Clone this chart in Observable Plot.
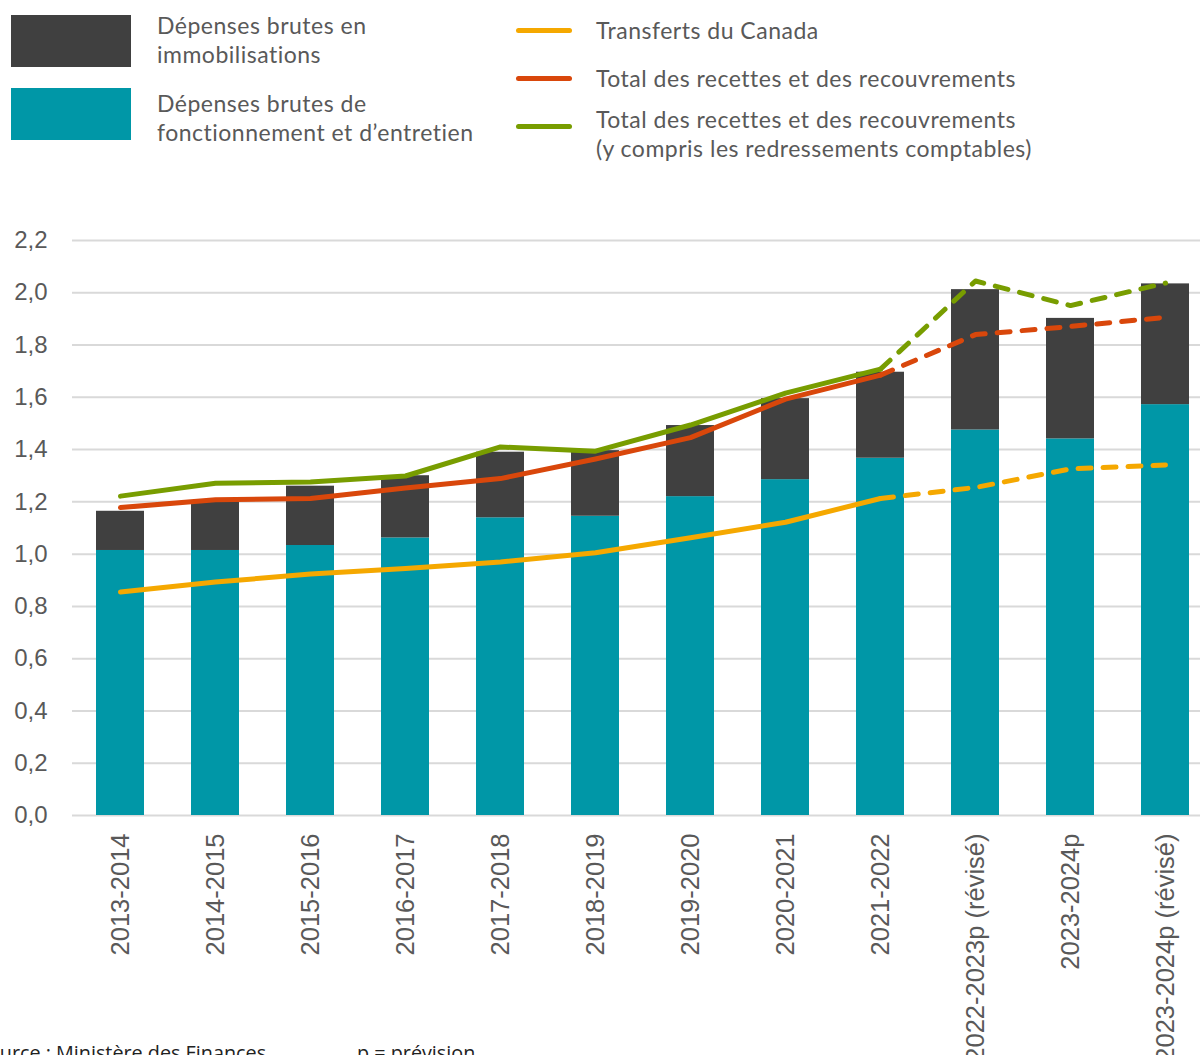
<!DOCTYPE html>
<html>
<head>
<meta charset="utf-8">
<script src="https://cdn.jsdelivr.net/npm/d3@7"></script>
<script src="https://cdn.jsdelivr.net/npm/@observablehq/plot@0.6"></script>
<style>
  html, body { margin: 0; padding: 0; overflow: hidden; background: #fff; }
  #page { position: relative; width: 1200px; height: 1055px; overflow: hidden; }
  .leg { position: absolute; font-family: Lato, "Noto Sans", sans-serif; font-size: 23px; letter-spacing: 0.5px; color: #595959; line-height: 29px; white-space: nowrap; }
  .sw { position: absolute; }
  .ln { position: absolute; height: 5px; border-radius: 3px; }
  #chart { position: absolute; left: 0; top: 200px; }
  .foot { position: absolute; font-family: "Open Sans", "Noto Sans", sans-serif; font-size: 19.8px; color: #222; white-space: nowrap; }
</style>
</head>
<body>
<div id="page">
  <div class="sw" style="left:11px;top:15px;width:120px;height:52px;background:#404040"></div>
  <div class="leg" style="left:157px;top:11px">Dépenses brutes en<br>immobilisations</div>
  <div class="sw" style="left:11px;top:88px;width:120px;height:52px;background:#0097a7"></div>
  <div class="leg" style="left:157px;top:89px">Dépenses brutes de<br>fonctionnement et d’entretien</div>

  <div class="ln" style="left:516px;top:28px;width:56px;background:#f5a800"></div>
  <div class="leg" style="left:596px;top:16px">Transferts du Canada</div>
  <div class="ln" style="left:516px;top:76px;width:56px;background:#d9470b"></div>
  <div class="leg" style="left:596px;top:64px">Total des recettes et des recouvrements</div>
  <div class="ln" style="left:516px;top:124px;width:56px;background:#789d00"></div>
  <div class="leg" style="left:596px;top:105px">Total des recettes et des recouvrements<br>(y compris les redressements comptables)</div>

  <div id="chart"></div>

  <div class="foot" style="left:-23px;top:1039px">Source : Ministère des Finances</div>
  <div class="foot" style="left:357px;top:1039px">p = prévision</div>
</div>
<script>
const categories = ["2013-2014","2014-2015","2015-2016","2016-2017","2017-2018","2018-2019","2019-2020","2020-2021","2021-2022","2022-2023p (révisé)","2023-2024p","2023-2024p (révisé)"];
const fonctionnement = [1.014,1.014,1.033,1.062,1.139,1.145,1.220,1.285,1.367,1.475,1.441,1.572];
const immobilisations = [0.150,0.185,0.227,0.238,0.251,0.251,0.272,0.310,0.329,0.537,0.461,0.462];
const transferts = [0.855,0.893,0.924,0.945,0.970,1.005,1.063,1.122,1.213,1.255,1.326,1.341];
const recettes = [1.178,1.208,1.213,1.253,1.289,1.364,1.446,1.593,1.685,1.840,1.871,1.906];
const recettesRedr = [1.222,1.271,1.276,1.299,1.410,1.394,1.494,1.616,1.708,2.045,1.951,2.037];
const yTicks = [0,0.2,0.4,0.6,0.8,1.0,1.2,1.4,1.6,1.8,2.0,2.2];
const forecastStart = 8; // index where dashed segment starts

const COL = {fonct: "#0097a7", immob: "#404040", transf: "#f5a800", rec: "#d9470b", redr: "#789d00"};

const bars = [];
categories.forEach((c, i) => {
  bars.push({cat: c, serie: "fonct", value: fonctionnement[i]});
  bars.push({cat: c, serie: "immob", value: immobilisations[i]});
});
const lines = [];
[["transf", transferts], ["rec", recettes], ["redr", recettesRedr]].forEach(([k, arr]) => {
  arr.forEach((v, i) => {
    if (i <= forecastStart) lines.push({cat: categories[i], serie: k, part: "solid", value: v});
    if (i >= forecastStart) lines.push({cat: categories[i], serie: k, part: "dash", value: v});
  });
});

const fmt = d => d3.format(".1f")(d).replace(".", ",");

const chart = Plot.plot({
  width: 1200,
  height: 855,
  marginLeft: 72,
  marginRight: 0,
  marginTop: 40,
  marginBottom: 240,
  x: {type: "band", domain: categories, range: [71.4, 1213.4], paddingInner: 0.5, paddingOuter: 0.25, axis: null},
  y: {domain: [0, 2.2], axis: null},
  style: {background: "transparent"},
  marks: [
    Plot.ruleY(yTicks, {stroke: "#d9d9d9", strokeWidth: 2}),
    Plot.barY(bars, Plot.stackY({x: "cat", y: "value", fill: d => COL[d.serie], order: ["fonct", "immob"], z: "serie"})),
    Plot.line(lines.filter(d => d.part === "solid"), {x: "cat", y: "value", z: "serie", stroke: d => COL[d.serie], strokeWidth: 5, strokeLinecap: "round", strokeLinejoin: "round"}),
    Plot.line(lines.filter(d => d.part === "dash"), {x: "cat", y: "value", z: "serie", stroke: d => COL[d.serie], strokeWidth: 5, strokeLinecap: "round", strokeLinejoin: "round", strokeDasharray: "13 12"}),
    Plot.text(yTicks, {y: d => d, text: fmt, frameAnchor: "left", dx: -25, textAnchor: "end", fontSize: 24, fill: "#595959", fontFamily: "Liberation Sans, Arial, sans-serif"}),
    Plot.text(categories, {x: d => d, frameAnchor: "bottom", dy: 18, rotate: -90, textAnchor: "end", lineAnchor: "middle", fontSize: 25.5, fill: "#595959", fontFamily: "Liberation Sans, Arial, sans-serif"})
  ]
});
document.getElementById("chart").appendChild(chart);
</script>
</body>
</html>
